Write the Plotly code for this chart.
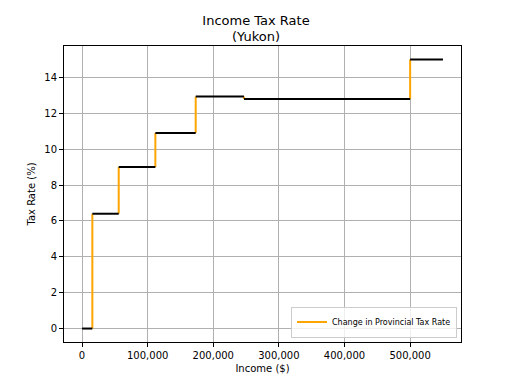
import plotly.graph_objects as go

# Bracket thresholds (income, $) and tax rate (%) within each bracket
brackets = [0, 15705, 55867, 111733, 173205, 246752, 500000, 550000]
rates = [0, 6.4, 9.0, 10.9, 12.93, 12.8, 15.0]

x_ticks = [0, 100000, 200000, 300000, 400000, 500000]
x_tick_labels = ["0", "100,000", "200,000", "300,000", "400,000", "500,000"]
y_ticks = [0, 2, 4, 6, 8, 10, 12, 14]

hx, hy = [], []
for i, r in enumerate(rates):
    hx += [brackets[i], brackets[i + 1], None]
    hy += [r, r, None]

vx, vy = [], []
for i in range(len(rates) - 1):
    vx += [brackets[i + 1], brackets[i + 1], None]
    vy += [rates[i], rates[i + 1], None]

fig = go.Figure()
fig.add_trace(go.Scatter(x=vx, y=vy, mode="lines", line=dict(color="orange", width=2),
                         name="Change in Provincial Tax Rate", showlegend=True))
fig.add_trace(go.Scatter(x=hx, y=hy, mode="lines", line=dict(color="black", width=2),
                         showlegend=False))

axis_common = dict(showline=True, linecolor="black", linewidth=1, mirror=True,
                   ticks="outside", ticklen=4, tickcolor="black",
                   showgrid=True, gridcolor="#b0b0b0", gridwidth=1, zeroline=False,
                   automargin=False,
                   tickfont=dict(size=10, color="black"))

fig.update_layout(
    width=512, height=384,
    margin=dict(l=64, r=51, t=46, b=42),
    paper_bgcolor="white", plot_bgcolor="white",
    font=dict(family="DejaVu Sans", color="black", size=10),
    title=dict(text="Income Tax Rate<br>(Yukon)", x=0.5, xanchor="center",
               yref="container", y=0.936, yanchor="top", font=dict(size=13)),
    xaxis=dict(range=[-27500, 577500], tickvals=x_ticks, ticktext=x_tick_labels,
               title=dict(text="Income ($)", standoff=4, font=dict(size=10)), **axis_common),
    yaxis=dict(range=[-0.75, 15.75], tickvals=y_ticks,
               title=dict(text="Tax Rate (%)", standoff=6, font=dict(size=10)), **axis_common),
    legend=dict(x=0.99, y=0.015, xanchor="right", yanchor="bottom",
                bgcolor="rgba(255,255,255,0.8)", bordercolor="#cccccc", borderwidth=1,
                font=dict(size=8), tracegroupgap=0),
)

fig.write_html("out.html", config={"displayModeBar": False},
               post_script="document.body.style.margin='0';")
